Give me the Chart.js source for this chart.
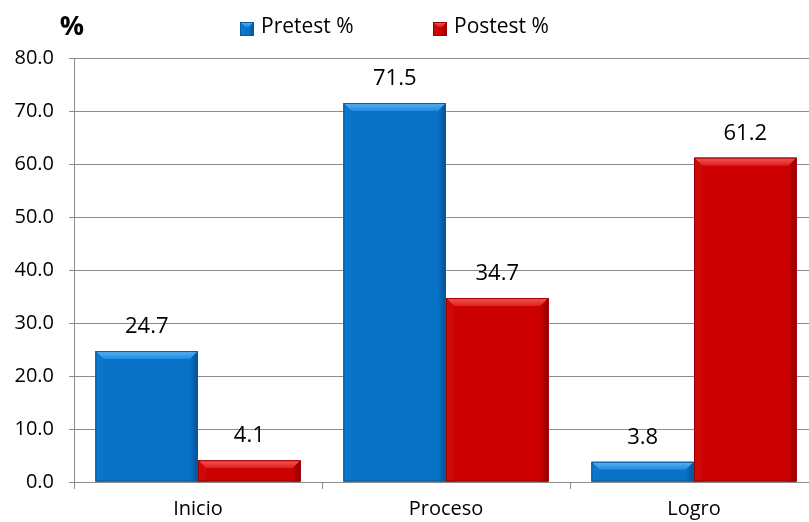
<!DOCTYPE html>
<html>
<head>
<meta charset="utf-8">
<script src="https://cdn.jsdelivr.net/npm/chart.js@4.4.1/dist/chart.umd.min.js"></script>
<style>
    html, body { margin: 0; padding: 0; background: #fff; overflow: hidden; }
    #wrap { position: relative; width: 818px; height: 522px; }
</style>
</head>
<body>
<div id="wrap"><canvas id="chart"></canvas></div>
<script>
const categories = ['Inicio', 'Proceso', 'Logro'];
const pretest = [24.7, 71.5, 3.8];
const postest = [4.1, 34.7, 61.2];
const seriesNames = ['Pretest %', 'Postest %'];
const yTicks = [0, 10, 20, 30, 40, 50, 60, 70, 80];

// colour sets for the bevel look
const shades = [
    { base: '#0872c6', hi: '#5ab4f4', top: '#1f8ade', left: '#0a78cc', right: '#034f8f', line: '#0a5a9c' },
    { base: '#cc0000', hi: '#f55a5a', top: '#de1c1c', left: '#cf0808', right: '#8c0000', line: '#9a0000' }
];

const FONT = "'Open Sans', 'DejaVu Sans', sans-serif";

function bevelRect(ctx, left, top, right, bottom, s, b) {
    ctx.fillStyle = s.base;
    ctx.fillRect(left, top, right - left, bottom - top);
    // top face, light to mid
    const g = ctx.createLinearGradient(0, top, 0, top + b);
    g.addColorStop(0, s.hi);
    g.addColorStop(1, s.top);
    ctx.fillStyle = g;
    ctx.beginPath();
    ctx.moveTo(left, top); ctx.lineTo(right, top);
    ctx.lineTo(right - b, top + b); ctx.lineTo(left + b, top + b);
    ctx.closePath(); ctx.fill();
    // left face
    ctx.fillStyle = s.left;
    ctx.beginPath();
    ctx.moveTo(left, top); ctx.lineTo(left + b, top + b);
    ctx.lineTo(left + b, bottom); ctx.lineTo(left, bottom);
    ctx.closePath(); ctx.fill();
    // right face, darker
    const gr = ctx.createLinearGradient(right - b, 0, right, 0);
    gr.addColorStop(0, s.base);
    gr.addColorStop(1, s.right);
    ctx.fillStyle = gr;
    ctx.beginPath();
    ctx.moveTo(right, top); ctx.lineTo(right - b, top + b);
    ctx.lineTo(right - b, bottom); ctx.lineTo(right, bottom);
    ctx.closePath(); ctx.fill();
    ctx.strokeStyle = s.line;
    ctx.lineWidth = 1;
    ctx.strokeRect(left + 0.5, top + 0.5, right - left - 1, bottom - top - 1);
}

// bevelled bars, drawn over the library's bar elements
const bevelPlugin = {
    id: 'bevel',
    afterDatasetsDraw(chart) {
        const ctx = chart.ctx;
        ctx.save();
        chart.data.datasets.forEach(function (ds, i) {
            const meta = chart.getDatasetMeta(i);
            meta.data.forEach(function (bar) {
                const p = bar.getProps(['x', 'y', 'base', 'width'], true);
                const left = p.x - p.width / 2;
                const right = p.x + p.width / 2;
                const top = Math.min(p.y, p.base);
                const bottom = Math.max(p.y, p.base);
                const b = Math.min(8, (bottom - top) / 2);
                bevelRect(ctx, left, top, right, bottom, shades[i], b);
            });
        });
        ctx.restore();
    }
};

// value labels above bars
const labelPlugin = {
    id: 'valueLabels',
    afterDatasetsDraw(chart) {
        const ctx = chart.ctx;
        ctx.save();
        ctx.font = '22px ' + FONT;
        ctx.fillStyle = '#000';
        ctx.textAlign = 'center';
        ctx.textBaseline = 'alphabetic';
        chart.data.datasets.forEach(function (ds, i) {
            chart.getDatasetMeta(i).data.forEach(function (bar, j) {
                ctx.fillText(ds.data[j].toFixed(1), bar.x, bar.y - 18);
            });
        });
        ctx.restore();
    }
};

// "%" unit title and legend at the top
const headerPlugin = {
    id: 'header',
    afterDraw(chart) {
        const ctx = chart.ctx;
        ctx.save();
        ctx.fillStyle = '#000';
        ctx.textBaseline = 'middle';
        ctx.font = 'bold 27px ' + FONT;
        ctx.textAlign = 'center';
        ctx.fillText('%', 72, 27);

        ctx.font = '21px ' + FONT;
        ctx.textAlign = 'left';
        const xs = [240, 433];
        chart.data.datasets.forEach(function (ds, i) {
            bevelRect(ctx, xs[i], 22, xs[i] + 14, 36, shades[i], 5);
            ctx.fillStyle = '#000';
            ctx.fillText(ds.label, xs[i] + 21, 27);
        });
        ctx.restore();
    }
};

new Chart(document.getElementById('chart'), {
    type: 'bar',
    data: {
        labels: categories,
        datasets: [
            { label: seriesNames[0], data: pretest, backgroundColor: shades[0].base },
            { label: seriesNames[1], data: postest, backgroundColor: shades[1].base }
        ]
    },
    options: {
        responsive: true,
        maintainAspectRatio: false,
        animation: false,
        layout: { padding: { left: 0, right: 0, top: 58, bottom: 0 } },
        datasets: {
            bar: { categoryPercentage: 0.827, barPercentage: 1.0 }
        },
        plugins: {
            legend: { display: false },
            tooltip: { enabled: false }
        },
        scales: {
            x: {
                grid: {
                    drawOnChartArea: false,
                    drawTicks: true,
                    tickLength: 7,
                    color: '#8c8c8c'
                },
                border: { color: '#8c8c8c' },
                ticks: {
                    color: '#000',
                    padding: 8,
                    font: { family: FONT, size: 20 }
                },
                afterFit: function (scale) { scale.height = 40; }
            },
            y: {
                min: 0,
                max: 80,
                afterBuildTicks: function (scale) {
                    scale.ticks = yTicks.map(function (v) { return { value: v }; });
                },
                grid: {
                    color: '#8c8c8c',
                    tickLength: 5
                },
                border: { color: '#8c8c8c' },
                ticks: {
                    color: '#000',
                    padding: 15,
                    font: { family: FONT, size: 20 },
                    callback: function (v) { return Number(v).toFixed(1); }
                },
                afterFit: function (scale) { scale.width = 74; }
            }
        }
    },
    plugins: [bevelPlugin, labelPlugin, headerPlugin]
});
</script>
</body>
</html>
